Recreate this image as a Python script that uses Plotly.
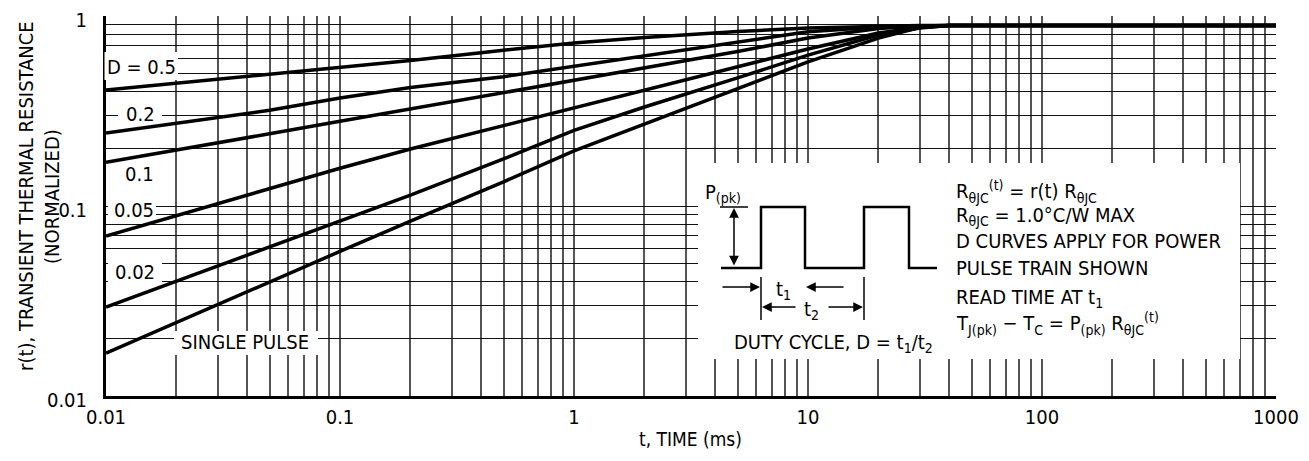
import plotly.graph_objects as go

# ---------------- data ----------------
t_ms = [0.01, 0.02, 0.05, 0.1, 0.2, 0.5, 1, 2, 5, 10, 20, 30, 40, 100, 1000]

r_d050 = [0.408, 0.443, 0.494, 0.536, 0.583, 0.661, 0.720, 0.771, 0.829, 0.865, 0.884, 0.890, 0.890, 0.890, 0.890]
r_d020 = [0.242, 0.273, 0.319, 0.370, 0.420, 0.479, 0.543, 0.617, 0.730, 0.827, 0.875, 0.888, 0.890, 0.890, 0.890]
r_d010 = [0.170, 0.198, 0.240, 0.279, 0.324, 0.395, 0.459, 0.534, 0.650, 0.766, 0.860, 0.885, 0.890, 0.890, 0.890]
r_d005 = [0.0695, 0.089, 0.1235, 0.158, 0.1995, 0.265, 0.326, 0.408, 0.539, 0.670, 0.814, 0.870, 0.890, 0.890, 0.890]
r_d002 = [0.0294, 0.0402, 0.0607, 0.083, 0.114, 0.177, 0.250, 0.332, 0.472, 0.623, 0.794, 0.865, 0.890, 0.890, 0.890]
r_single = [0.0168, 0.0244, 0.0398, 0.0577, 0.0833, 0.134, 0.195, 0.270, 0.418, 0.573, 0.765, 0.870, 0.890, 0.890, 0.890]

series_names = ["D = 0.5", "0.2", "0.1", "0.05", "0.02", "SINGLE PULSE"]
series_values = [r_d050, r_d020, r_d010, r_d005, r_d002, r_single]

x_decades = [-2, -1, 0, 1, 2]
x_decade_labels = ["0.01", "0.1", "1", "10", "100", "1000"]
y_decades = [-2, -1]
y_decade_labels = ["0.01", "0.1", "1"]

x_title = "t, TIME (ms)"
y_title_1 = "r(t), TRANSIENT THERMAL RESISTANCE"
y_title_2 = "(NORMALIZED)"

inset_lines = [
    "R<sub>θJC</sub><sup>(t)</sup> = r(t) R<sub>θJC</sub>",
    "R<sub>θJC</sub> = 1.0°C/W MAX",
    "D CURVES APPLY FOR POWER",
    "PULSE TRAIN SHOWN",
    "READ TIME AT t<sub>1</sub>",
    "T<sub>J(pk)</sub> − T<sub>C</sub> = P<sub>(pk)</sub> R<sub>θJC</sub><sup>(t)</sup>",
]

FONT = "DejaVu Sans Condensed, Liberation Sans, Arial, sans-serif"
FS = 20
OFF = 8   # page body margin
PAGE_W, PAGE_H = 1309, 461
PLOT_X0, PLOT_X1, PLOT_Y0, PLOT_Y1 = 106, 1276, 16, 396   # page pixels
W, H = PAGE_W - 2 * OFF, PAGE_H - 2 * OFF
L = PLOT_X0 - OFF
T = PLOT_Y0 - OFF
R = W - (PLOT_X1 - OFF)
B = H - (PLOT_Y1 - OFF)


def PX(x):
    return (x - PLOT_X0) / (PLOT_X1 - PLOT_X0)


def PY(y):
    return (PLOT_Y1 - y) / (PLOT_Y1 - PLOT_Y0)


x_tickvals, x_ticktext = [], []
for e, lab in zip(x_decades, x_decade_labels):
    for m in range(1, 10):
        x_tickvals.append(m * 10.0 ** e)
        x_ticktext.append(lab if m == 1 else "")
x_tickvals.append(1000)
x_ticktext.append(x_decade_labels[-1])

y_tickvals, y_ticktext = [], []
for e, lab in zip(y_decades, y_decade_labels):
    for m in range(1, 10):
        y_tickvals.append(m * 10.0 ** e)
        y_ticktext.append(lab if m == 1 else "")
y_tickvals.append(1)
y_ticktext.append(y_decade_labels[-1])

fig = go.Figure()
for name, vals in zip(series_names, series_values):
    fig.add_trace(go.Scatter(x=t_ms, y=vals, mode="lines", name=name,
                             line=dict(color="black", width=3.5),
                             showlegend=False, hoverinfo="skip"))

shapes = []
annotations = []


def white_box(x0, y0, x1, y1):
    shapes.append(dict(type="rect", xref="paper", yref="paper",
                       x0=PX(x0), x1=PX(x1), y0=PY(y1), y1=PY(y0),
                       fillcolor="white", line=dict(width=0), layer="above"))

white_box(104.5, 52, 178, 80)     # D = 0.5
white_box(118, 107, 162, 122)     # 0.2
white_box(108, 199, 156, 219)     # 0.05
white_box(108, 259, 162, 284)     # 0.02
white_box(174, 331, 318, 355)     # SINGLE PULSE
white_box(698, 163, 1240, 359)    # inset

label_pos = [(141, 67), (140, 114), (139, 174), (134, 210), (135, 272), (245, 342)]
for name, (lx, ly) in zip(series_names, label_pos):
    annotations.append(dict(text=name, x=PX(lx), y=PY(ly), xref="paper", yref="paper",
                            showarrow=False, xanchor="center", yanchor="middle",
                            font=dict(family=FONT, size=FS, color="black")))

pulse = [(721, 268), (761, 268), (761, 207), (805, 207), (805, 268), (864, 268),
         (864, 207), (909, 207), (909, 268), (937, 268)]
path = "M " + " L ".join(f"{PX(a):.5f},{PY(b):.5f}" for a, b in pulse)
shapes.append(dict(type="path", xref="paper", yref="paper", path=path,
                   line=dict(color="black", width=2.5), layer="above"))


def seg(x0, y0, x1, y1, w=1.5):
    shapes.append(dict(type="line", xref="paper", yref="paper",
                       x0=PX(x0), y0=PY(y0), x1=PX(x1), y1=PY(y1),
                       line=dict(color="black", width=w), layer="above"))

seg(720, 207, 748, 207)
seg(761, 277, 761, 320)
seg(864, 277, 864, 320)


def arrow(hx, hy, tx, ty, both=False):
    annotations.append(dict(x=PX(hx), y=PY(hy), xref="paper", yref="paper",
                            ax=tx - hx, ay=ty - hy, text="", showarrow=True,
                            arrowhead=2, arrowsize=1.3, arrowwidth=1.5, arrowcolor="black",
                            arrowside="end+start" if both else "end",
                            startarrowhead=2, startarrowsize=1.3))

arrow(734, 208, 734, 267, both=True)
arrow(760, 287, 721, 287)
arrow(806, 287, 845, 287)
arrow(762, 307, 797, 307)
arrow(863, 307, 827, 307)


def txt(s, x, y, xanchor="left", size=FS, angle=0):
    annotations.append(dict(text=s, x=PX(x), y=PY(y), xref="paper", yref="paper",
                            showarrow=False, xanchor=xanchor, yanchor="middle",
                            textangle=angle,
                            font=dict(family=FONT, size=size, color="black")))

txt("P<sub>(pk)</sub>", 703, 193)
txt("t<sub>1</sub>", 783, 290, xanchor="center")
txt("t<sub>2</sub>", 811, 310, xanchor="center")
txt("DUTY CYCLE, D = t<sub>1</sub>/t<sub>2</sub>", 833, 343, xanchor="center")

inset_y = [191, 216, 241, 268, 298, 323]
for s, yy in zip(inset_lines, inset_y):
    txt(s, 954, yy)

txt(x_title, 690, 439, xanchor="center", size=19)
txt(y_title_1, 26, 196, xanchor="center", angle=-90)
txt(y_title_2, 52, 197, xanchor="center", angle=-90)

fig.update_layout(
    width=W, height=H,
    margin=dict(l=L, r=R, t=T, b=B, autoexpand=False),
    paper_bgcolor="white", plot_bgcolor="white",
    font=dict(family=FONT, size=FS, color="black"),
    shapes=shapes, annotations=annotations,
    xaxis=dict(type="log", range=[-2, 3], tickmode="array",
               tickvals=x_tickvals, ticktext=x_ticktext,
               showgrid=True, gridcolor="#555555", gridwidth=1.6,
               showline=True, linecolor="black", linewidth=3,
               ticks="", ticklabelstandoff=1, zeroline=False,
               ticklabeloverflow="allow", automargin=False,
               tickfont=dict(family=FONT, size=FS, color="black")),
    yaxis=dict(type="log", range=[-2, 0], tickmode="array",
               tickvals=y_tickvals, ticktext=y_ticktext,
               showgrid=True, gridcolor="#111111", gridwidth=1.1,
               showline=True, linecolor="black", linewidth=3,
               ticks="", ticklabelstandoff=12, ticklabelshift=4, zeroline=False,
               ticklabeloverflow="allow", automargin=False,
               tickfont=dict(family=FONT, size=FS, color="black")),
)

fig.write_html("out.html")
